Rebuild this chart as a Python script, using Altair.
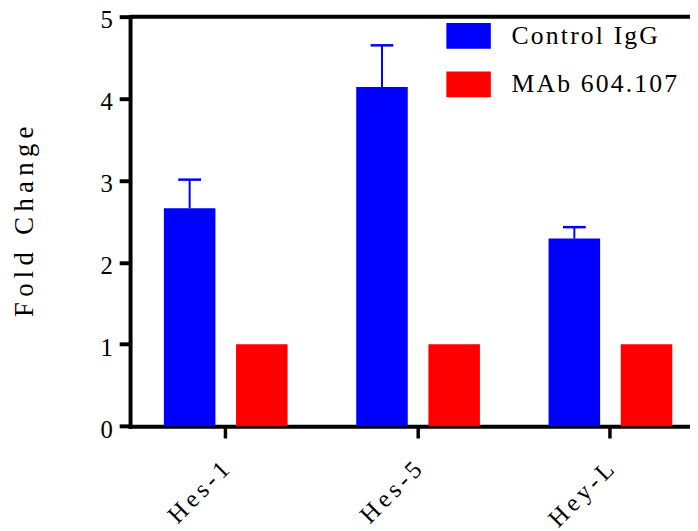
import altair as alt
import pandas as pd

genes = ["Hes-1", "Hes-5", "Hey-L"]
series = ["Control IgG", "MAb 604.107"]
control_mean = [2.66, 4.14, 2.29]
control_err_top = [3.01, 4.65, 2.43]
mab_mean = [1.0, 1.0, 1.0]
colors = ["#0000FF", "#FF0000"]
y_ticks = [0, 1, 2, 3, 4, 5]
y_title = "Fold Change"

THIN = "\u2009"
SIXTH = "\u2006"
HAIR = "\u200A"
FONT = "Liberation Serif"


def spaced(s, sep):
    return sep.join(s)


gene_labels = [spaced(g, SIXTH) for g in genes]
series_labels = [spaced(s, HAIR) for s in series]

rows = []
for i, g in enumerate(gene_labels):
    rows.append(dict(gene=g, series=series_labels[0], value=control_mean[i]))
    rows.append(dict(gene=g, series=series_labels[1], value=mab_mean[i]))
bars_df = pd.DataFrame(rows)
err_df = pd.DataFrame(dict(gene=gene_labels, series=[series_labels[0]] * len(genes),
                           low=control_mean, high=control_err_top))
top_df = pd.DataFrame(dict(v=[y_ticks[-1]]))

x_enc = alt.X("gene:N", sort=gene_labels,
              scale=alt.Scale(paddingInner=0.357, paddingOuter=0.134, align=0.656),
              axis=alt.Axis(title=None, labelAngle=-45, labelAlign="right", labelBaseline="top",
                            labelFont=FONT, labelFontSize=25, labelColor="black", labelPadding=19,
                            labelOffset=-9,
                            domainColor="black", domainWidth=4, domainCap="square",
                            tickColor="black", tickWidth=3.5, tickSize=12, grid=False))
xo_enc = alt.XOffset("series:N", sort=series_labels,
                     scale=alt.Scale(paddingInner=0.286, paddingOuter=0))
y_scale = alt.Scale(domain=[0, 5], nice=False)

bars = alt.Chart(bars_df).mark_bar().encode(
    x=x_enc,
    xOffset=xo_enc,
    y=alt.Y("value:Q", scale=y_scale,
            axis=alt.Axis(values=y_ticks, format="d", title=spaced(y_title, THIN), grid=False,
                          domainColor="black", domainWidth=4, domainCap="square",
                          tickColor="black", tickWidth=4, tickSize=11,
                          labelFont=FONT, labelFontSize=25, labelColor="black", labelPadding=7,
                          labelOffset=3,
                          titleFont=FONT, titleFontSize=27, titleFontWeight="normal",
                          titleColor="black", titleAngle=270, titleAlign="center",
                          titleBaseline="middle", titleX=-107, titleY=207)),
    color=alt.Color("series:N", sort=series_labels,
                    scale=alt.Scale(domain=series_labels, range=colors),
                    legend=alt.Legend(title=None, orient="none", legendX=320, legendY=-3,
                                      symbolType="M-1,-0.578H1V0.578H-1Z", symbolSize=2025,
                                      symbolStrokeWidth=0, symbolOpacity=1,
                                      labelFont=FONT, labelFontSize=26, labelColor="black",
                                      labelOffset=21, rowPadding=13, padding=0,
                                      labelLimit=400)),
)

stems = alt.Chart(err_df).mark_rule(color="#0000FF", strokeWidth=2).encode(
    x=alt.X("gene:N", sort=gene_labels),
    xOffset=alt.XOffset("series:N", sort=series_labels),
    y=alt.Y("low:Q", scale=y_scale),
    y2="high:Q",
)

caps = alt.Chart(err_df).mark_tick(color="#0000FF", orient="horizontal", size=23,
                                   thickness=2.5, opacity=1).encode(
    x=alt.X("gene:N", sort=gene_labels),
    xOffset=alt.XOffset("series:N", sort=series_labels),
    y=alt.Y("high:Q", scale=y_scale),
)

top = alt.Chart(top_df).mark_rule(color="black", strokeWidth=4).encode(
    y=alt.Y("v:Q", scale=y_scale),
)

chart = alt.layer(bars, stems, caps, top).properties(
    width=566.5, height=414.3,
    autosize=alt.AutoSizeParams(type="none"),
    padding={"left": 123.5, "top": 5.7, "right": 0, "bottom": 103},
).configure_view(stroke=None)

chart.save("out.html", embed_options={"renderer": "svg", "actions": False})
